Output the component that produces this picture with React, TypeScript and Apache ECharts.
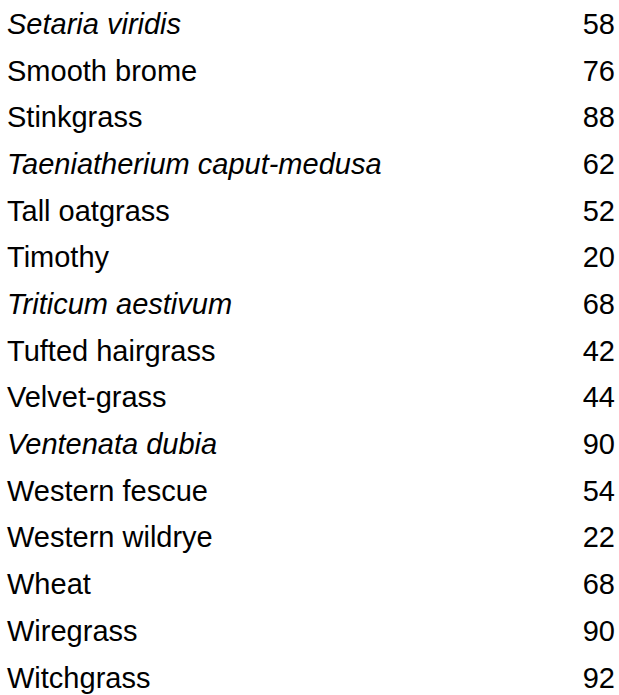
import React, { useEffect, useRef } from "react";
import * as echarts from "echarts";

const names = [
  "Setaria viridis",
  "Smooth brome",
  "Stinkgrass",
  "Taeniatherium caput-medusa",
  "Tall oatgrass",
  "Timothy",
  "Triticum aestivum",
  "Tufted hairgrass",
  "Velvet-grass",
  "Ventenata dubia",
  "Western fescue",
  "Western wildrye",
  "Wheat",
  "Wiregrass",
  "Witchgrass",
];
const italicNames = [
  "Setaria viridis",
  "Taeniatherium caput-medusa",
  "Triticum aestivum",
  "Ventenata dubia",
];
const values = [58, 76, 88, 62, 52, 20, 68, 42, 44, 90, 54, 22, 68, 90, 92];

const FONT = "Arial, 'Liberation Sans', Helvetica, sans-serif";
const SIZE = 29;

export default function App() {
  const ref = useRef<HTMLDivElement>(null);
  useEffect(() => {
    if (!ref.current) return;
    const chart = echarts.init(ref.current, null, { renderer: "svg" });
    chart.setOption({
      animation: false,
      backgroundColor: "#ffffff",
      grid: { left: 7, right: 4, top: 24, bottom: 17.5, containLabel: false },
      xAxis: { type: "value", show: false, min: 0, max: 100 },
      yAxis: [
        {
          type: "category",
          data: names,
          inverse: true,
          boundaryGap: false,
          position: "left",
          axisLine: { show: false },
          axisTick: { show: false },
          splitLine: { show: false },
          axisLabel: {
            margin: 0,
            align: "left",
            verticalAlign: "middle",
            interval: 0,
            color: "#000",
            fontFamily: FONT,
            fontSize: SIZE,
            formatter: (v: string) =>
              italicNames.includes(v) ? `{i|${v}}` : `{n|${v}}`,
            rich: {
              i: { fontStyle: "italic", fontFamily: FONT, fontSize: SIZE, color: "#000" },
              n: { fontStyle: "normal", fontFamily: FONT, fontSize: SIZE, color: "#000" },
            },
          },
        },
        {
          type: "category",
          data: values.map(String),
          inverse: true,
          boundaryGap: false,
          position: "right",
          axisLine: { show: false },
          axisTick: { show: false },
          splitLine: { show: false },
          axisLabel: {
            margin: 0,
            align: "right",
            verticalAlign: "middle",
            interval: 0,
            color: "#000",
            fontFamily: FONT,
            fontSize: SIZE,
          },
        },
      ],
      series: [
        {
          type: "scatter",
          yAxisIndex: 0,
          symbolSize: 0,
          silent: true,
          data: values.map((v, i) => [v, names[i]]),
          itemStyle: { opacity: 0 },
        },
      ],
    });
    return () => chart.dispose();
  }, []);
  return (
    <div
      ref={ref}
      style={{ position: "fixed", left: 0, top: 0, width: 619, height: 695, background: "#fff" }}
    />
  );
}
